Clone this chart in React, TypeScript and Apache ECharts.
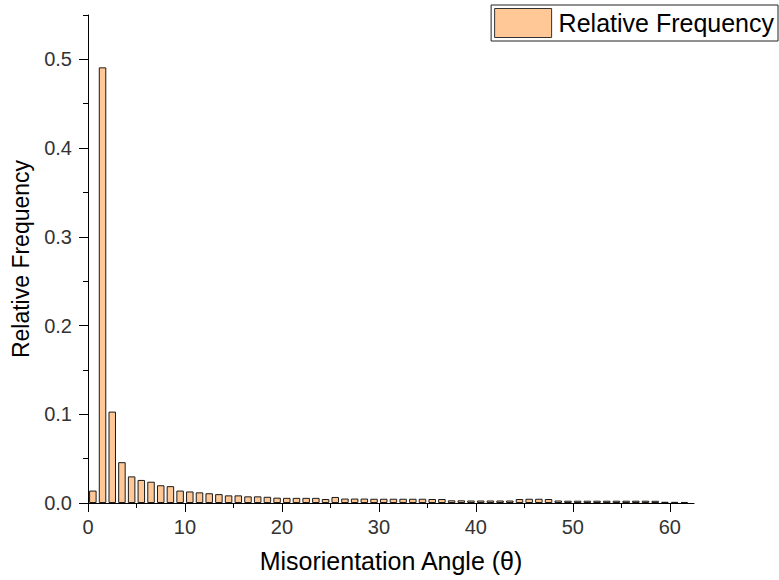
import React, { useEffect, useRef } from "react";
import * as echarts from "echarts";

// Misorientation angle histogram: 1° bins from 0° to 62°
const binCenters: number[] = Array.from({ length: 62 }, (_, i) => i + 0.5);

const relativeFrequency: number[] = [
  0.014, 0.491, 0.103, 0.046, 0.030, 0.026, 0.024, 0.020, 0.019, 0.014,
  0.013, 0.012, 0.011, 0.010, 0.0086, 0.0086, 0.0075, 0.0075, 0.0070, 0.0060,
  0.0058, 0.0058, 0.0058, 0.0058, 0.0045, 0.0068, 0.0050, 0.0050, 0.0050, 0.0048,
  0.0048, 0.0048, 0.0048, 0.0048, 0.0048, 0.0045, 0.0045, 0.0030, 0.0030, 0.0028,
  0.0028, 0.0028, 0.0028, 0.0028, 0.0045, 0.0048, 0.0048, 0.0045, 0.0028, 0.0026,
  0.0026, 0.0026, 0.0026, 0.0026, 0.0026, 0.0026, 0.0026, 0.0026, 0.0025, 0.0014,
  0.0013, 0.0012,
];

const xMajorTicks: number[] = [0, 10, 20, 30, 40, 50, 60];
const xMinorTicks: number[] = [5, 15, 25, 35, 45, 55];
const yMajorTicks: number[] = [0, 0.1, 0.2, 0.3, 0.4, 0.5];
const yMinorTicks: number[] = [0.05, 0.15, 0.25, 0.35, 0.45, 0.55];

const seriesName = "Relative Frequency";
const xTitle = "Misorientation Angle (θ)";
const yTitle = "Relative Frequency";

const FONT = "'Liberation Sans', Arial, sans-serif";

export default function App() {
  const ref = useRef<HTMLDivElement>(null);

  useEffect(() => {
    if (!ref.current) return;
    const chart = echarts.init(ref.current, undefined, { renderer: "svg" });

    const xMin = 0;
    const xMax = 62.5;
    const yMin = 0;
    const yMax = 0.55;

    const hiddenAxisBits = {
      axisLine: { show: false },
      axisLabel: { show: false },
      splitLine: { show: false },
    };

    chart.setOption({
      animation: false,
      backgroundColor: "#ffffff",
      textStyle: { fontFamily: FONT },
      grid: { left: 88, right: 85, top: 15, bottom: 77, containLabel: false },
      legend: {
        show: true,
        right: 1,
        top: 5,
        orient: "horizontal",
        icon: "rect",
        itemWidth: 57,
        itemHeight: 29,
        padding: [3, 4, 3, 3],
        borderColor: "#222",
        borderWidth: 1,
        backgroundColor: "#fff",
        itemStyle: { borderColor: "#333", borderWidth: 1 },
        textStyle: {
          fontFamily: FONT,
          fontSize: 25,
          color: "#000",
          padding: [0, 0, 0, 2],
        },
        data: [seriesName],
      },
      xAxis: [
        {
          type: "value",
          min: xMin,
          max: xMax,
          interval: 10,
          name: xTitle,
          nameLocation: "middle",
          nameGap: 45,
          nameTextStyle: { fontFamily: FONT, fontSize: 25, color: "#000" },
          axisLine: { show: true, lineStyle: { color: "#000", width: 1 } },
          axisTick: {
            show: true,
            inside: false,
            length: 9,
            customValues: xMajorTicks,
            lineStyle: { color: "#000", width: 1 },
          },
          axisLabel: {
            show: true,
            customValues: xMajorTicks,
            margin: 14,
            fontFamily: FONT,
            fontSize: 20,
            color: "#333",
            formatter: (v: number) => String(v),
          },
          splitLine: { show: false },
        },
        {
          type: "value",
          min: xMin,
          max: xMax,
          interval: 10,
          position: "bottom",
          ...hiddenAxisBits,
          axisTick: {
            show: true,
            inside: false,
            length: 5,
            customValues: xMinorTicks,
            lineStyle: { color: "#000", width: 1 },
          },
        },
      ],
      yAxis: [
        {
          type: "value",
          min: yMin,
          max: yMax,
          interval: 0.1,
          name: yTitle,
          nameLocation: "middle",
          nameGap: 56,
          nameRotate: 90,
          nameTextStyle: { fontFamily: FONT, fontSize: 23, color: "#000" },
          axisLine: { show: true, lineStyle: { color: "#000", width: 1 } },
          axisTick: {
            show: true,
            inside: false,
            length: 9,
            customValues: yMajorTicks,
            lineStyle: { color: "#000", width: 1 },
          },
          axisLabel: {
            show: true,
            customValues: yMajorTicks,
            margin: 16,
            fontFamily: FONT,
            fontSize: 20,
            color: "#333",
            formatter: (v: number) => v.toFixed(1),
          },
          splitLine: { show: false },
        },
        {
          type: "value",
          min: yMin,
          max: yMax,
          interval: 0.1,
          position: "left",
          ...hiddenAxisBits,
          axisTick: {
            show: true,
            inside: false,
            length: 5,
            customValues: yMinorTicks,
            lineStyle: { color: "#000", width: 1 },
          },
        },
      ],
      series: [
        {
          name: seriesName,
          type: "bar",
          xAxisIndex: 0,
          yAxisIndex: 0,
          barWidth: 7.5,
          itemStyle: {
            color: "#FFC896",
            borderColor: "#1a1a1a",
            borderWidth: 1,
          },
          data: binCenters.map((c, i) => [c, relativeFrequency[i]]),
        },
      ],
    });

    return () => chart.dispose();
  }, []);

  return (
    <div
      ref={ref}
      style={{ position: "fixed", left: 0, top: 0, width: 779, height: 580 }}
    />
  );
}
